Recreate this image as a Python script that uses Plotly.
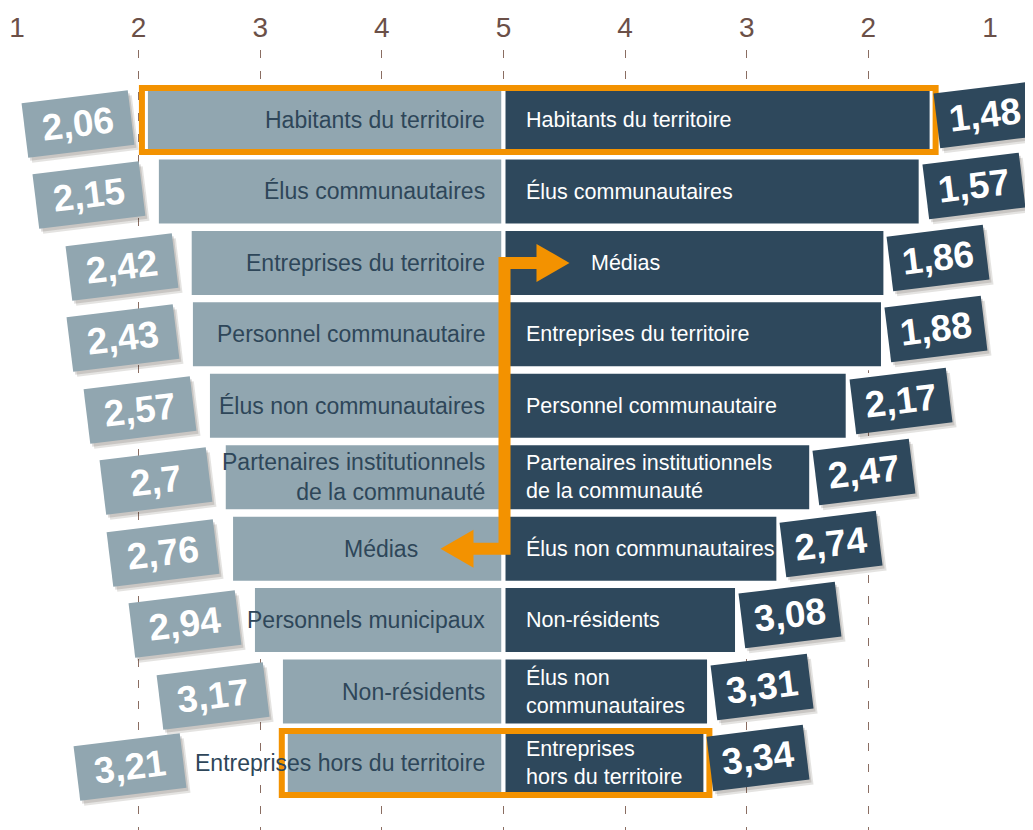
import plotly.graph_objects as go

# ---------------- data ----------------
left_categories = [
    "Habitants du territoire", "Élus communautaires", "Entreprises du territoire",
    "Personnel communautaire", "Élus non communautaires",
    "Partenaires institutionnels<br>de la communauté", "Médias",
    "Personnels municipaux", "Non-résidents", "Entreprises hors du territoire",
]
left_values = [2.06, 2.15, 2.42, 2.43, 2.57, 2.7, 2.76, 2.94, 3.17, 3.21]

right_categories = [
    "Habitants du territoire", "Élus communautaires", "Médias",
    "Entreprises du territoire", "Personnel communautaire",
    "Partenaires institutionnels<br>de la communauté", "Élus non communautaires",
    "Non-résidents", "Élus non<br>communautaires", "Entreprises<br>hors du territoire",
]
right_values = [1.48, 1.57, 1.86, 1.88, 2.17, 2.47, 2.74, 3.08, 3.31, 3.34]

tick_values = [1, 2, 3, 4, 5, 6, 7, 8, 9]
tick_labels = ["1", "2", "3", "4", "5", "4", "3", "2", "1"]

highlighted = ["Habitants du territoire", "Entreprises hors du territoire"]

# ---------------- style ----------------
OFF = 8                      # page body margin around the figure
W, H = 1033 - OFF, 830 - OFF
LEFT_COLOR = "#91a6b0"
RIGHT_COLOR = "#2e485c"
LEFT_TEXT = "#2e4659"
ORANGE = "#f39200"
GRID = "#8a6d62"
TICK = "#6b5048"
LABEL_FONT = "Liberation Sans, Arial, Helvetica, sans-serif"
NUM_FONT = "Liberation Sans, Arial, Helvetica, sans-serif"

X_PX0, X_PX1 = 17 - OFF, 990 - OFF          # figure-pixel span of axis 1..9
UNIT = (tick_values[-1] - tick_values[0]) / (X_PX1 - X_PX0)  # data units per px
ROW_PX = 71.44
HALF = 32 / ROW_PX


def dx(px):
    return px * UNIT


def dy(px):
    return px / ROW_PX


def fmt(v):
    return ("%g" % v).replace(".", ",")


rows = list(range(len(left_values)))
mid = 5  # centre value on both halves

fig = go.Figure()
fig.add_trace(go.Bar(
    orientation="h", y=rows, x=[v - mid for v in left_values], base=mid,
    marker=dict(color=LEFT_COLOR, line=dict(color="white", width=4)),
    width=(64 + 4) / ROW_PX, hoverinfo="skip", showlegend=False,
))
fig.add_trace(go.Bar(
    orientation="h", y=rows, x=[mid - v for v in right_values], base=mid,
    marker=dict(color=RIGHT_COLOR, line=dict(color="white", width=4)),
    width=(64 + 4) / ROW_PX, hoverinfo="skip", showlegend=False,
))

annotations = []
shapes = []

r_top = right_categories.index("Médias")
r_bot = left_categories.index("Médias")

# category labels
for i, cat in enumerate(left_categories):
    shift = -17 if cat != "Médias" else -84
    annotations.append(dict(
        x=mid, y=i, xref="x", yref="y", text=cat, showarrow=False,
        xanchor="right", yanchor="middle", xshift=shift, align="right",
        font=dict(family=LABEL_FONT, size=23, color=LEFT_TEXT),
    ))
for i, cat in enumerate(right_categories):
    shift = 20 if cat != "Médias" else 85
    annotations.append(dict(
        x=mid, y=i, xref="x", yref="y", text=cat, showarrow=False,
        xanchor="left", yanchor="middle", xshift=shift, align="left",
        font=dict(family=LABEL_FONT, size=21.5, color="white"),
    ))

# value boxes (shadow + box)
boxes = []
for i, v in enumerate(left_values):
    shift = -156 if i == len(left_values) - 1 else -68
    boxes.append((v, i, shift, -4, 104, LEFT_COLOR, fmt(v)))
for i, v in enumerate(right_values):
    boxes.append((2 * mid - v, i, 53, 5, 94, RIGHT_COLOR, fmt(v)))

for (px, py, xs, ys, w, col, txt) in boxes:
    annotations.append(dict(
        x=px, y=py, xref="x", yref="y", text=" ", showarrow=False,
        xanchor="center", yanchor="middle", xshift=xs + 4, yshift=ys - 5,
        width=w, height=52, textangle=-7, bgcolor="rgba(50,35,25,0.13)",
        font=dict(family=NUM_FONT, size=36),
    ))
    annotations.append(dict(
        x=px, y=py, xref="x", yref="y", text=" ", showarrow=False,
        xanchor="center", yanchor="middle", xshift=xs + 2, yshift=ys - 3,
        width=w, height=52, textangle=-7, bgcolor="rgba(50,35,25,0.15)",
        font=dict(family=NUM_FONT, size=36),
    ))
for (px, py, xs, ys, w, col, txt) in boxes:
    annotations.append(dict(
        x=px, y=py, xref="x", yref="y", text="<b>%s</b>" % txt, showarrow=False,
        xanchor="center", yanchor="middle", xshift=xs, yshift=ys,
        width=w, height=52, textangle=-7, bgcolor=col, align="center",
        font=dict(family=NUM_FONT, size=37, color="white"),
    ))

# orange highlight frames
for name in highlighted:
    i = [c.replace("<br>", " ") for c in left_categories].index(name)
    shapes.append(dict(
        type="rect", xref="x", yref="y",
        x0=left_values[i] - dx(4), x1=2 * mid - right_values[i] + dx(4),
        y0=i - HALF, y1=i + HALF,
        line=dict(color=ORANGE, width=6), fillcolor="rgba(0,0,0,0)", layer="above",
    ))

# orange arrows
vx = mid + dx(1)
shapes.append(dict(
    type="path", xref="x", yref="y",
    path="M %f %f L %f %f L %f %f L %f %f" % (
        mid + dx(34), r_top, vx, r_top, vx, r_bot, mid - dx(31), r_bot),
    line=dict(color=ORANGE, width=12), layer="above",
))
shapes.append(dict(
    type="path", xref="x", yref="y",
    path="M %f %f L %f %f L %f %f Z" % (
        mid + dx(33), r_top - dy(19), mid + dx(66), r_top, mid + dx(33), r_top + dy(19)),
    fillcolor=ORANGE, line=dict(width=0), layer="above",
))
shapes.append(dict(
    type="path", xref="x", yref="y",
    path="M %f %f L %f %f L %f %f Z" % (
        mid - dx(30), r_bot - dy(19), mid - dx(63), r_bot, mid - dx(30), r_bot + dy(19)),
    fillcolor=ORANGE, line=dict(width=0), layer="above",
))

top_px = 50 - OFF
row0_px = 120 - OFF
y_top = -(row0_px - top_px) / ROW_PX
y_bot = y_top + (H - top_px) / ROW_PX

fig.update_layout(
    width=W, height=H,
    margin=dict(l=0, r=0, t=top_px, b=0, autoexpand=False),
    paper_bgcolor="white", plot_bgcolor="white",
    barmode="overlay",
    showlegend=False,
    annotations=annotations,
    shapes=shapes,
    xaxis=dict(
        domain=[X_PX0 / W, X_PX1 / W], range=[tick_values[0], tick_values[-1]],
        side="top", tickmode="array", tickvals=tick_values, ticktext=tick_labels,
        showgrid=True, gridcolor=GRID, gridwidth=1, griddash="8px,13px",
        zeroline=False, showline=False, ticks="", automargin=False,
        ticklabelstandoff=6,
        tickfont=dict(family=NUM_FONT, size=28, color=TICK),
        fixedrange=True,
    ),
    yaxis=dict(
        range=[y_bot, y_top], showgrid=False, zeroline=False, automargin=False,
        showticklabels=False, showline=False, fixedrange=True,
    ),
)

fig.write_html("out.html")
